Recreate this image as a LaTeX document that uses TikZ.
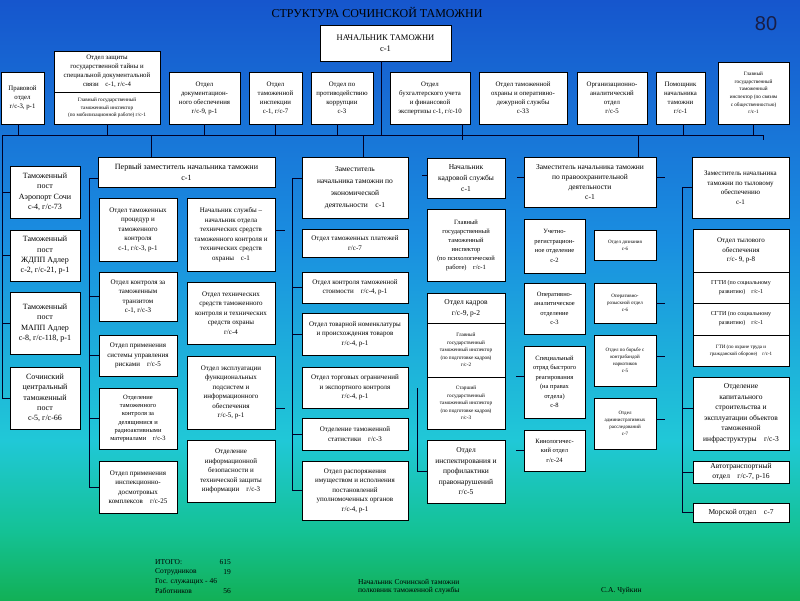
\documentclass[tikz,border=0pt]{standalone}
\usepackage{fontspec}
\setmainfont{Liberation Serif}
\newfontfamily\numfont{Liberation Sans}
\usetikzlibrary{shadows}

\definecolor{bgGreen}{RGB}{18,176,86}
\definecolor{bgTeal}{RGB}{20,194,150}
\definecolor{bgCyan}{RGB}{32,200,215}
\definecolor{bgMid}{RGB}{26,142,224}
\definecolor{bgBlue}{RGB}{22,86,205}
\definecolor{pagenum}{RGB}{25,30,70}
\pgfdeclareverticalshading{slidebg}{100bp}{color(0bp)=(bgGreen); color(25bp)=(bgGreen); color(30.8bp)=(bgTeal); color(38.3bp)=(bgCyan); color(55bp)=(bgMid); color(75bp)=(bgBlue); color(100bp)=(bgBlue)}

\tikzset{
  box/.style={draw=black, fill=white, line width=0.5pt, inner sep=1pt, align=center,
    drop shadow={shadow xshift=1.3pt, shadow yshift=-1.3pt, opacity=.6, fill=black}},
  link/.style={draw=black!85!blue, line width=0.7pt},
  toptxt/.style={font=\fontsize{6.8}{9}\selectfont},
  tinytxt/.style={font=\fontsize{5.2}{7.6}\selectfont},
  subtxt/.style={font=\fontsize{7}{9.5}\selectfont},
  posttxt/.style={font=\fontsize{8}{10.3}\selectfont},
  headtxt/.style={font=\fontsize{7.5}{11}\selectfont},
  foottxt/.style={font=\fontsize{7.5}{8}\selectfont, inner sep=0pt}
}

\begin{document}
\begin{tikzpicture}[x=1pt,y=-1pt]
  \clip (0,0) rectangle (800,600);
  \shade[shading=slidebg] (0,0) rectangle (800,600);

  % title
  \node[font=\fontsize{12}{12}\selectfont] (title) at (377,12) {СТРУКТУРА СОЧИНСКОЙ ТАМОЖНИ};
  \node[font=\numfont\fontsize{20}{20}\selectfont, text=pagenum] (pnum) at (766,24) {80};

  % chief
  \node[box, font=\fontsize{8.5}{10.5}\selectfont, minimum width=131pt, minimum height=36pt] (chief) at (385.5,43) {НАЧАЛЬНИК ТАМОЖНИ\\с-1};

  % top row
  \node[box, toptxt, minimum width=43pt, minimum height=52pt] (pravo) at (22.5,98) {Правовой\\отдел\\г/с-3, р-1};
  \node[box, toptxt, minimum width=106pt, minimum height=41pt] (gostaina) at (107,71.5) {Отдел защиты\\государственной тайны и\\специальной документальной\\связи\quad с-1, г/с-4};
  \node[box, tinytxt, minimum width=106pt, minimum height=32pt] (mobil) at (107,108) {Главный государственный\\таможенный инспектор\\(по мобилизационной работе) г/с-1};
  \node[box, toptxt, minimum width=71pt, minimum height=52pt] (docobesp) at (204.5,98) {Отдел\\документацион-\\ного обеспечения\\г/с-9, р-1};
  \node[box, toptxt, minimum width=53pt, minimum height=52pt] (inspekc) at (275.5,98) {Отдел\\таможенной\\инспекции\\с-1, г/с-7};
  \node[box, toptxt, minimum width=62pt, minimum height=52pt] (korrup) at (342,98) {Отдел по\\противодействию\\коррупции\\с-3};
  \node[box, toptxt, minimum width=80pt, minimum height=52pt] (buhg) at (430,98) {Отдел\\бухгалтерского учета\\и финансовой\\экспертизы с-1, г/с-10};
  \node[box, toptxt, minimum width=88pt, minimum height=52pt] (ohrana) at (523,98) {Отдел таможенной\\охраны и оперативно-\\дежурной службы\\с-33};
  \node[box, toptxt, minimum width=70pt, minimum height=52pt] (orgotd) at (612,98) {Организационно-\\аналитический\\отдел\\г/с-5};
  \node[box, toptxt, minimum width=49pt, minimum height=52pt] (pomosh) at (680.5,98) {Помощник\\начальника\\таможни\\г/с-1};
  \node[box, tinytxt, minimum width=71pt, minimum height=62pt] (pressa) at (753.5,93) {Главный\\государственный\\таможенный\\инспектор (по связям\\с общественностью)\\г/с-1};

  % bus
  \coordinate (busL) at (2,135);
  \coordinate (busR) at (763,135);
  \draw[link] (busL) -- (busR);
  \draw[link] ([xshift=-4.5pt]chief.south) -- ([xshift=-4.5pt]chief.south |- busL);
  \draw[link] ([xshift=-4.5pt]pravo.south) -- ([xshift=-4.5pt]pravo.south |- busL);
  \draw[link] (mobil.south) -- (mobil.south |- busL);
  \draw[link] (docobesp.south) -- (docobesp.south |- busL);
  \draw[link] (inspekc.south) -- (inspekc.south |- busL);
  \draw[link] ([xshift=-5pt]korrup.south) -- ([xshift=-5pt]korrup.south |- busL);
  \draw[link] ([xshift=32pt]buhg.south) -- ([xshift=32pt]buhg.south |- busL);
  \draw[link] ([xshift=2.5pt]pomosh.south) -- ([xshift=2.5pt]pomosh.south |- busL);
  \draw[link] (pressa.south) -- (pressa.south |- busL);

  % posts
  \node[box, posttxt, minimum width=70pt, minimum height=52pt] (post1) at (45,192) {Таможенный\\пост\\Аэропорт Сочи\\с-4, г/с-73};
  \node[box, posttxt, minimum width=70pt, minimum height=51pt] (post2) at (45,255.5) {Таможенный\\пост\\ЖДПП Адлер\\с-2, г/с-21, р-1};
  \node[box, posttxt, minimum width=70pt, minimum height=62pt] (post3) at (45,323) {Таможенный\\пост\\МАПП Адлер\\с-8, г/с-118, р-1};
  \node[box, posttxt, minimum width=70pt, minimum height=62pt] (post4) at (45,398) {Сочинский\\центральный\\таможенный\\пост\\с-5, г/с-66};
  \draw[link] (busL) |- (post4.west);
  \foreach \p in {post1,post2,post3}
    \draw[link] (\p.west) -- (\p.west -| busL);

  % first deputy
  \node[box, font=\fontsize{8}{11}\selectfont, minimum width=177pt, minimum height=30pt] (dep1) at (186.5,172) {Первый заместитель начальника таможни\\с-1};
  \draw[link] ([xshift=-35.5pt]dep1.north) -- ([xshift=-35.5pt]dep1.north |- busL);
  \node[box, subtxt, minimum width=78pt, minimum height=63pt] (tamproc) at (138,229.5) {Отдел таможенных\\процедур и\\таможенного\\контроля\\с-1, г/с-3, р-1};
  \node[box, subtxt, minimum width=78pt, minimum height=49pt] (tranzit) at (138,296.5) {Отдел контроля за\\таможенным\\транзитом\\с-1, г/с-3};
  \node[box, subtxt, minimum width=78pt, minimum height=41pt] (riski) at (138,355.5) {Отдел применения\\системы управления\\рисками\quad г/с-5};
  \node[box, font=\fontsize{6.5}{8.3}\selectfont, minimum width=78pt, minimum height=61pt] (radio) at (138,418.5) {Отделение\\таможенного\\контроля за\\делящимися и\\радиоактивными\\материалами\quad г/с-3};
  \node[box, subtxt, minimum width=78pt, minimum height=52pt] (idk) at (138,487) {Отдел применения\\инспекционно-\\досмотровых\\комплексов\quad г/с-25};
  \node[box, subtxt, minimum width=88pt, minimum height=73pt] (nachsluzh) at (231,234.5) {Начальник службы –\\начальник отдела\\технических средств\\таможенного контроля и\\технических средств\\охраны\quad с-1};
  \node[box, subtxt, minimum width=88pt, minimum height=62pt] (tso) at (231,313) {Отдел технических\\средств таможенного\\контроля и технических\\средств охраны\\г/с-4};
  \node[box, subtxt, minimum width=88pt, minimum height=73pt] (ekspl) at (231,392.5) {Отдел эксплуатации\\функциональных\\подсистем и\\информационного\\обеспечения\\г/с-5, р-1};
  \node[box, subtxt, minimum width=88pt, minimum height=62pt] (infobez) at (231,471) {Отделение\\информационной\\безопасности и\\технической защиты\\информации\quad г/с-3};
  \draw[link] ([yshift=-6pt]dep1.west) -- ++(-8,0) |- (idk.west);
  \foreach \b in {tranzit,riski,radio}
    \draw[link] (\b.west) -- ++(-9,0);
  \draw[link] ([yshift=4.5pt]nachsluzh.east) -- ++(10,0);
  \draw[link] ([yshift=-15.5pt]ekspl.east) -- ++(10,0);

  % economic deputy
  \node[box, font=\fontsize{7.5}{12}\selectfont, minimum width=106pt, minimum height=61pt] (depecon) at (355,187.5) {Заместитель\\начальника таможни по\\экономической\\деятельности\quad с-1};
  \draw[link] ([xshift=8pt]depecon.north) -- ([xshift=8pt]depecon.north |- busL);
  \node[box, subtxt, minimum width=106pt, minimum height=28pt] (platezh) at (355,243) {Отдел таможенных платежей\\г/с-7};
  \node[box, subtxt, minimum width=106pt, minimum height=31pt] (stoimost) at (355,287.5) {Отдел контроля таможенной\\стоимости\quad г/с-4, р-1};
  \node[box, subtxt, minimum width=106pt, minimum height=42pt] (nomenkl) at (355,334) {Отдел товарной номенклатуры\\и происхождения товаров\\г/с-4, р-1};
  \node[box, subtxt, minimum width=106pt, minimum height=41pt] (ogranich) at (355,387.5) {Отдел торговых ограничений\\и экспортного контроля\\г/с-4, р-1};
  \node[box, subtxt, minimum width=106pt, minimum height=32pt] (statist) at (355,434) {Отделение таможенной\\статистики\quad г/с-3};
  \node[box, subtxt, minimum width=106pt, minimum height=59pt] (rasporyazh) at (355,490.5) {Отдел распоряжения\\имуществом и исполнения\\постановлений\\уполномоченных органов\\г/с-4, р-1};
  \draw[link] ([yshift=9.5pt]depecon.west) -- ++(-9,0) |- (rasporyazh.west);
  \foreach \b in {stoimost,nomenkl,statist}
    \draw[link] (\b.west) -- ++(-9,0);

  % personnel service
  \node[box, headtxt, minimum width=78pt, minimum height=40pt] (nachkadr) at (466,178) {Начальник\\кадровой службы\\с-1};
  \node[box, font=\fontsize{6.5}{9}\selectfont, minimum width=78pt, minimum height=72pt] (psiholog) at (466,245) {Главный\\государственный\\таможенный\\инспектор\\(по психологической\\работе)\quad г/с-1};
  \node[box, headtxt, minimum width=78pt, minimum height=30pt] (otdkadr) at (466,308) {Отдел кадров\\г/с-9, р-2};
  \node[box, tinytxt, minimum width=78pt, minimum height=54pt] (kadr2) at (466,350) {Главный\\государственный\\таможенный инспектор\\(по подготовке кадров)\\г/с-2};
  \node[box, tinytxt, minimum width=78pt, minimum height=52pt] (kadr3) at (466,403) {Старший\\государственный\\таможенный инспектор\\(по подготовке кадров)\\г/с-3};
  \node[box, font=\fontsize{7.5}{10.5}\selectfont, minimum width=78pt, minimum height=63pt] (inspekt) at (466,471.5) {Отдел\\инспектирования и\\профилактики\\правонарушений\\г/с-5};
  \draw[link] ([xshift=-4pt]nachkadr.north |- busL) -- ++(0,5);
  \draw[link] ([yshift=3pt]nachkadr.west) -- ++(-5,0);
  \draw[link] (inspekt.west) -- ++(-9,0) -- ++(0,-84);

  % law enforcement deputy
  \node[box, font=\fontsize{7.5}{10}\selectfont, minimum width=132pt, minimum height=50pt] (deppravo) at (590,182) {Заместитель начальника таможни\\по правоохранительной\\деятельности\\с-1};
  \draw[link] ([xshift=48pt]deppravo.north) -- ([xshift=48pt]deppravo.north |- busL);
  \node[box, font=\fontsize{6.5}{9.5}\selectfont, minimum width=61pt, minimum height=54pt] (uchet) at (554.5,246) {Учетно-\\регистрацион-\\ное отделение\\с-2};
  \node[box, font=\fontsize{6.5}{9.5}\selectfont, minimum width=61pt, minimum height=51pt] (operanalit) at (554.5,308.5) {Оперативно-\\аналитическое\\отделение\\с-3};
  \node[box, font=\fontsize{6.5}{9.5}\selectfont, minimum width=61pt, minimum height=72pt] (spets) at (554.5,382) {Специальный\\отряд быстрого\\реагирования\\(на правах\\отдела)\\с-8};
  \node[box, font=\fontsize{6.5}{9.5}\selectfont, minimum width=61pt, minimum height=41pt] (kinolog) at (554.5,450.5) {Кинологичес-\\кий отдел\\г/с-24};
  \node[box, font=\fontsize{5}{7}\selectfont, minimum width=62pt, minimum height=30pt] (doznanie) at (625,245) {Отдел дознания\\с-6};
  \node[box, font=\fontsize{5}{7}\selectfont, minimum width=62pt, minimum height=40pt] (operroz) at (625,303) {Оперативно-\\розыскной отдел\\с-6};
  \node[box, font=\fontsize{5}{7}\selectfont, minimum width=62pt, minimum height=51pt] (narkotik) at (625,360.5) {Отдел по борьбе с\\контрабандой\\наркотиков\\с-5};
  \node[box, font=\fontsize{5}{7}\selectfont, minimum width=62pt, minimum height=51pt] (admrassl) at (625,423.5) {Отдел\\административных\\расследований\\с-7};
  \draw[link] ([yshift=5pt]deppravo.west) -- ++(-7,0);
  \draw[link] ([yshift=6pt]spets.west) -- ++(-8,0);
  \draw[link] (kinolog.west) -- ++(-8,0);
  \draw[link] ([yshift=5pt]deppravo.east) -- ++(9,0);
  \draw[link] (operroz.east) -- ++(9,0);
  \draw[link] ([yshift=4.5pt]narkotik.east) -- ++(9,0);
  \draw[link] ([yshift=4.5pt]admrassl.east) -- ++(9,0);

  % rear support deputy
  \node[box, font=\fontsize{7}{9.5}\selectfont, minimum width=97pt, minimum height=61pt] (deptyl) at (740.5,187.5) {Заместитель начальника\\таможни по тыловому\\обеспечению\\с-1};
  \draw[link] (busR) -- ++(0,5);
  \node[box, font=\fontsize{7}{9.5}\selectfont, minimum width=96pt, minimum height=43pt] (tylotd) at (741,250.5) {Отдел тылового\\обеспечения\\г/с- 9, р-8};
  \node[box, font=\fontsize{6}{9}\selectfont, minimum width=96pt, minimum height=31pt] (ggti) at (741,287.5) {ГГТИ (по социальному\\развитию)\quad г/с-1};
  \node[box, font=\fontsize{6}{9}\selectfont, minimum width=96pt, minimum height=32pt] (sgti) at (741,319) {СГТИ (по социальному\\развитию)\quad г/с-1};
  \node[box, font=\fontsize{5}{7}\selectfont, minimum width=96pt, minimum height=31pt] (gti) at (741,350.5) {ГТИ (по охране труда и\\гражданской обороне)\quad г/с-1};
  \node[box, font=\fontsize{7.5}{10.5}\selectfont, minimum width=96pt, minimum height=73pt] (kapstroi) at (741,413.5) {Отделение\\капитального\\строительства и\\эксплуатации объектов\\таможенной\\инфраструктуры\quad г/с-3};
  \node[box, font=\fontsize{7.5}{10}\selectfont, minimum width=96pt, minimum height=22pt] (avto) at (741,472) {Автотранспортный\\отдел\quad г/с-7, р-16};
  \node[box, font=\fontsize{7.5}{9}\selectfont, minimum width=96pt, minimum height=19pt] (morskoy) at (741,512.5) {Морской отдел\quad с-7};
  \draw[link] (deptyl.west) -- ++(-9,0) |- (morskoy.west);
  \draw[link] ([yshift=5.5pt]kapstroi.west) -- ++(-10,0);
  \draw[link] (avto.west) -- ++(-10,0);

  % footer
  \node[foottxt, anchor=west] (total) at (155,562) {ИТОГО:};
  \node[foottxt, anchor=east] (totalnum) at (231,562) {615};
  \node[foottxt, anchor=west] (sotr) at (155,572) {Сотрудников};
  \node[foottxt, anchor=east] (sotrnum) at (231,572) {19};
  \node[foottxt, anchor=west] (gossl) at (155,581.5) {Гос. служащих - 46};
  \node[foottxt, anchor=west] (rabot) at (155,591) {Работников};
  \node[foottxt, anchor=east] (rabotnum) at (231,591) {56};
  \node[foottxt, anchor=west] (signA) at (358,581.5) {Начальник Сочинской таможни};
  \node[foottxt, anchor=west] (signB) at (358,591) {полковник таможенной службы};
  \node[foottxt, anchor=west] (signName) at (601,591) {С.А. Чуйкин};
\end{tikzpicture}
\end{document}
